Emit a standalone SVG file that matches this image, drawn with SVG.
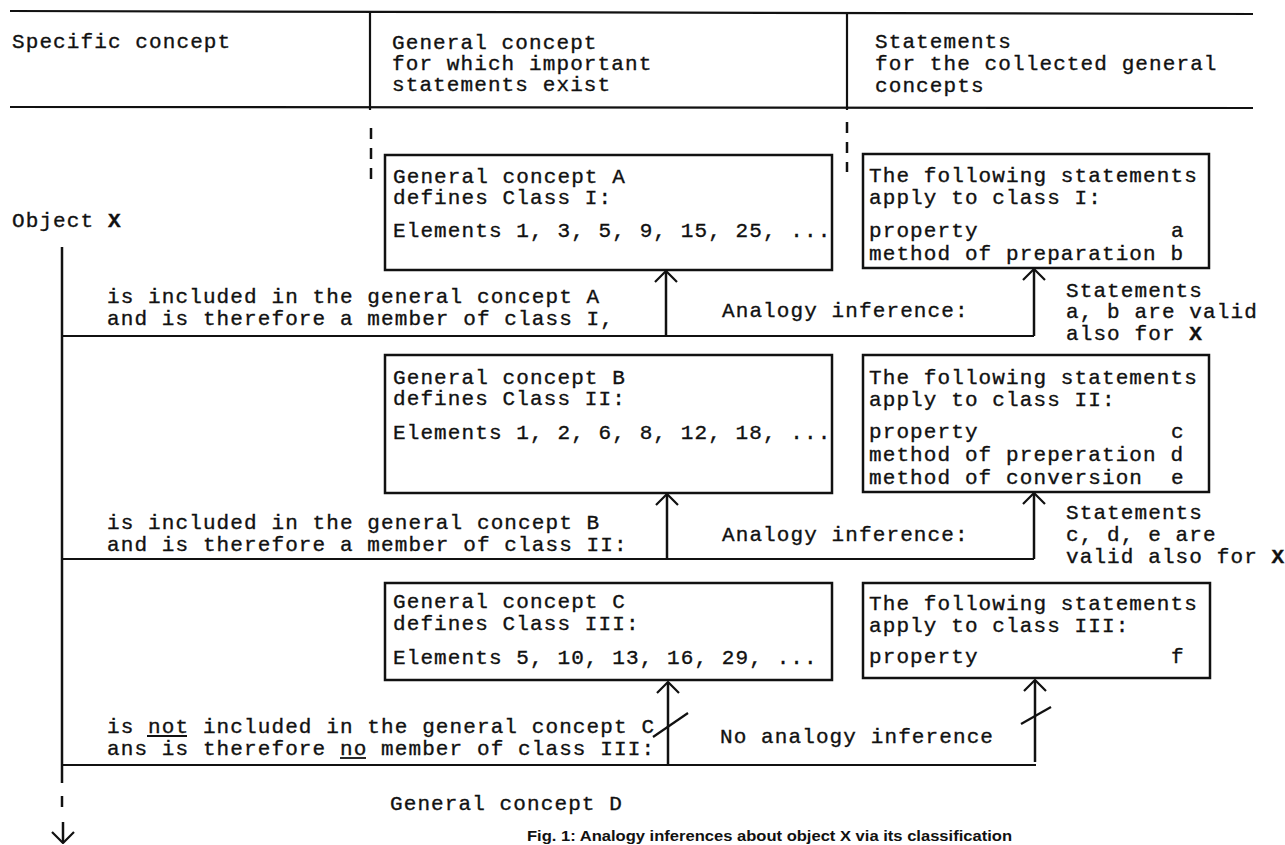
<svg xmlns="http://www.w3.org/2000/svg" width="1285" height="845" viewBox="0 0 1285 845">
<style>
  text { font-family: "Liberation Mono", "DejaVu Sans Mono", monospace; font-size: 21px; letter-spacing: 1.1px; fill: #111; stroke: #111; stroke-width: 0.35px; }
  .cap { font-family: "Liberation Sans", Arial, sans-serif; font-size: 15px; letter-spacing: 0; font-weight: bold; stroke: none; }
  .b { font-weight: bold; }
  .box { fill: none; stroke: #111; stroke-width: 2.5; }
  .rule { stroke: #111; stroke-width: 2.2; fill: none; }
  .conn { stroke: #111; stroke-width: 2.5; fill: none; }
  .dash { stroke: #111; stroke-width: 2.5; stroke-dasharray: 11 9; fill: none; }
</style>
<defs>
  <marker id="open" viewBox="0 0 13 24" refX="12" refY="12" markerWidth="13" markerHeight="24" markerUnits="userSpaceOnUse" orient="auto">
    <path d="M1,1 L12,12 L1,23" fill="none" stroke="#111" stroke-width="2.2"/>
  </marker>
</defs>
<rect width="1285" height="845" fill="#fff"/>

<g id="header">
  <line class="rule" x1="10" y1="11" x2="1253" y2="14"/>
  <line class="rule" x1="10" y1="107" x2="1253" y2="108"/>
  <line class="rule" x1="370" y1="12" x2="370" y2="110" stroke-width="3"/>
  <line class="rule" x1="847" y1="14" x2="847" y2="110" stroke-width="3"/>
  <text x="12" y="48">Specific concept</text>
  <text x="392" y="49">General concept</text>
  <text x="392" y="70">for which important</text>
  <text x="392" y="91">statements exist</text>
  <text x="875" y="48">Statements</text>
  <text x="875" y="70">for the collected general</text>
  <text x="875" y="92">concepts</text>
  <line class="dash" x1="371" y1="128" x2="371" y2="186"/>
  <line class="dash" x1="847" y1="122" x2="847" y2="172"/>
</g>

<g id="objectX">
  <text x="12" y="227">Object <tspan class="b">X</tspan></text>
</g>

<g id="conceptA">
  <rect class="box" x="385" y="155" width="447" height="115"/>
  <text x="393" y="183">General concept A</text>
  <text x="393" y="204">defines Class I:</text>
  <text x="393" y="237">Elements 1, 3, 5, 9, 15, 25, ...</text>
</g>
<g id="statementsA">
  <rect class="box" x="863" y="154" width="346" height="114"/>
  <text x="869" y="182">The following statements</text>
  <text x="869" y="204">apply to class I:</text>
  <text x="869" y="237">property</text>
  <text x="1171" y="237">a</text>
  <text x="869" y="260">method of preparation b</text>
</g>

<g id="conceptB">
  <rect class="box" x="385" y="355" width="447" height="138"/>
  <text x="393" y="384">General concept B</text>
  <text x="393" y="405">defines Class II:</text>
  <text x="393" y="439">Elements 1, 2, 6, 8, 12, 18, ...</text>
</g>
<g id="statementsB">
  <rect class="box" x="863" y="355" width="346" height="137"/>
  <text x="869" y="384">The following statements</text>
  <text x="869" y="406">apply to class II:</text>
  <text x="869" y="438">property</text>
  <text x="1171" y="438">c</text>
  <text x="869" y="461">method of preperation d</text>
  <text x="869" y="484">method of conversion</text>
  <text x="1171" y="484">e</text>
</g>

<g id="conceptC">
  <rect class="box" x="385" y="583" width="447" height="97"/>
  <text x="393" y="608">General concept C</text>
  <text x="393" y="630">defines Class III:</text>
  <text x="393" y="664">Elements 5, 10, 13, 16, 29, ...</text>
</g>
<g id="statementsC">
  <rect class="box" x="863" y="583" width="347" height="95"/>
  <text x="869" y="610">The following statements</text>
  <text x="869" y="632">apply to class III:</text>
  <text x="869" y="663">property</text>
  <text x="1171" y="663">f</text>
</g>

<g id="conceptD">
  <text x="390" y="810">General concept D</text>
</g>

<g id="connectors">
  <line class="conn" x1="62" y1="247" x2="62" y2="783" stroke-width="3"/>
  <line class="conn" x1="62" y1="796" x2="62" y2="807" stroke-width="3"/>
  <line class="conn" x1="63" y1="822" x2="63" y2="843" stroke-width="2" marker-end="url(#open)"/>

  <polyline class="rule" points="62,336 1034,336"/>
  <line class="conn" x1="666" y1="336" x2="666" y2="271" marker-end="url(#open)"/>
  <line class="conn" x1="1034" y1="336" x2="1034" y2="269" marker-end="url(#open)"/>

  <polyline class="rule" points="62,559 1034,559"/>
  <line class="conn" x1="667" y1="559" x2="667" y2="494" marker-end="url(#open)"/>
  <line class="conn" x1="1034" y1="559" x2="1034" y2="493" marker-end="url(#open)"/>

  <polyline class="rule" points="62,765 1036,765"/>
  <line class="conn" x1="668" y1="765" x2="668" y2="682" marker-end="url(#open)"/>
  <line class="conn" x1="1035" y1="762" x2="1035" y2="680" marker-end="url(#open)"/>
  <line class="rule" x1="653" y1="737" x2="688" y2="713"/>
  <line class="rule" x1="1021" y1="724" x2="1051" y2="707"/>
</g>

<g id="labels">
  <text x="107" y="303">is included in the general concept A</text>
  <text x="107" y="325">and is therefore a member of class I,</text>
  <text x="722" y="317">Analogy inference:</text>
  <text x="1066" y="297">Statements</text>
  <text x="1066" y="318">a, b are valid</text>
  <text x="1066" y="340">also for <tspan class="b">X</tspan></text>

  <text x="107" y="529">is included in the general concept B</text>
  <text x="107" y="551">and is therefore a member of class II:</text>
  <text x="722" y="541">Analogy inference:</text>
  <text x="1066" y="519">Statements</text>
  <text x="1066" y="541">c, d, e are</text>
  <text x="1066" y="563">valid also for <tspan class="b">X</tspan></text>

  <text x="107" y="733">is not included in the general concept C</text>
  <text x="107" y="755">ans is therefore no member of class III:</text>
  <line x1="147" y1="736" x2="187" y2="736" stroke="#111" stroke-width="1.8"/>
  <line x1="340" y1="758" x2="366" y2="758" stroke="#111" stroke-width="1.8"/>
  <text x="720" y="743">No analogy inference</text>
</g>

<g id="caption">
  <text class="cap" x="527" y="841" textLength="485" lengthAdjust="spacingAndGlyphs">Fig. 1: Analogy inferences about object X via its classification</text>
</g>
</svg>
